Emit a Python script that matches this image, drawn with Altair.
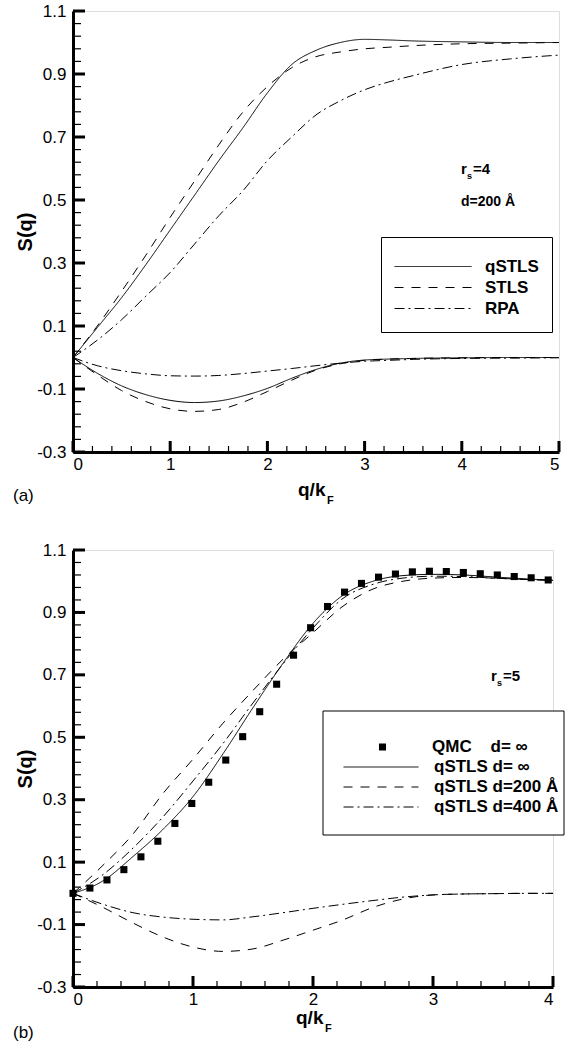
import altair as alt
import pandas as pd

FONT = "Liberation Sans"
NB = "\u00a0"

# ---------------- Panel (a): r_s = 4, d = 200 Å ----------------
q_a = [0, 0.25, 0.5, 0.75, 1.0, 1.25, 1.5, 1.75, 2.0, 2.25, 2.5, 2.75, 3.0, 3.25, 3.5, 4.0, 4.5, 5.0]
qstls_up_a = [0, 0.095, 0.19, 0.295, 0.405, 0.515, 0.625, 0.73, 0.84, 0.93, 0.975, 1.0, 1.01, 1.008, 1.005, 1.002, 1.0, 1.0]
stls_up_a = [0, 0.10, 0.21, 0.325, 0.445, 0.56, 0.675, 0.78, 0.86, 0.92, 0.955, 0.97, 0.98, 0.985, 0.99, 0.996, 0.998, 1.0]
rpa_up_a = [0, 0.055, 0.12, 0.195, 0.27, 0.36, 0.45, 0.53, 0.625, 0.70, 0.77, 0.815, 0.85, 0.875, 0.895, 0.93, 0.948, 0.96]
qstls_lo_a = [0, -0.05, -0.09, -0.118, -0.136, -0.143, -0.138, -0.122, -0.098, -0.066, -0.038, -0.018, -0.008, -0.005, -0.003, -0.001, 0, 0]
stls_lo_a = [0, -0.055, -0.105, -0.14, -0.163, -0.171, -0.165, -0.142, -0.108, -0.072, -0.04, -0.02, -0.009, -0.005, -0.003, -0.001, 0, 0]
rpa_lo_a = [0, -0.026, -0.042, -0.052, -0.058, -0.059, -0.057, -0.051, -0.043, -0.035, -0.026, -0.018, -0.012, -0.009, -0.006, -0.003, -0.002, -0.001]
series_a = ["qSTLS", "STLS", "RPA"]

# ---------------- Panel (b): r_s = 5 ----------------
q_b = [0, 0.25, 0.5, 0.75, 1.0, 1.25, 1.5, 1.75, 2.0, 2.25, 2.5, 2.75, 3.0, 3.25, 3.5, 3.75, 4.0]
qstls_inf_b = [0, 0.04, 0.118, 0.205, 0.31, 0.447, 0.595, 0.737, 0.865, 0.955, 1.0, 1.018, 1.022, 1.02, 1.014, 1.008, 1.003]
d200_up_b = [0, 0.09, 0.19, 0.32, 0.43, 0.545, 0.65, 0.75, 0.835, 0.92, 0.975, 1.0, 1.01, 1.012, 1.01, 1.006, 1.003]
d400_up_b = [0, 0.06, 0.145, 0.245, 0.36, 0.48, 0.61, 0.735, 0.85, 0.945, 0.99, 1.01, 1.016, 1.015, 1.01, 1.006, 1.003]
d200_lo_b = [0, -0.045, -0.095, -0.14, -0.172, -0.186, -0.178, -0.15, -0.118, -0.085, -0.045, -0.018, -0.005, -0.002, -0.001, 0, 0]
d400_lo_b = [0, -0.035, -0.062, -0.076, -0.083, -0.085, -0.075, -0.062, -0.048, -0.035, -0.023, -0.012, -0.005, -0.002, -0.001, 0, 0]
qmc_q = [0, 0.141, 0.283, 0.424, 0.566, 0.707, 0.849, 0.990, 1.131, 1.273, 1.414, 1.556, 1.697, 1.838,
         1.980, 2.121, 2.263, 2.404, 2.546, 2.687, 2.828, 2.970, 3.111, 3.253, 3.394, 3.536, 3.677, 3.818, 3.960]
qmc_s = [0.0, 0.017, 0.043, 0.076, 0.117, 0.167, 0.224, 0.288, 0.356, 0.427, 0.502, 0.582, 0.67, 0.763,
         0.851, 0.919, 0.965, 0.993, 1.013, 1.023, 1.03, 1.032, 1.031, 1.028, 1.024, 1.02, 1.015, 1.011, 1.004]
qmc_name = ["QMC" + NB * 4 + "d=" + NB + "\u221e"]
series_b = ["qSTLS" + NB + "d=" + NB + "\u221e",
            "qSTLS" + NB + "d=200" + NB + "\u00c5", "qSTLS" + NB + "d=400" + NB + "\u00c5"]

# ---------------- Axis ticks / labels ----------------
y_major = [-0.3, -0.1, 0.1, 0.3, 0.5, 0.7, 0.9, 1.1]
y_minor = [-0.26, -0.22, -0.18, -0.14, -0.06, -0.02, 0.02, 0.06, 0.14, 0.18, 0.22, 0.26,
           0.34, 0.38, 0.42, 0.46, 0.54, 0.58, 0.62, 0.66, 0.74, 0.78, 0.82, 0.86,
           0.94, 0.98, 1.02, 1.06]
x_major_a = [0, 1, 2, 3, 4, 5]
x_minor_a = [0.2, 0.4, 0.6, 0.8, 1.2, 1.4, 1.6, 1.8, 2.2, 2.4, 2.6, 2.8, 3.2, 3.4, 3.6, 3.8, 4.2, 4.4, 4.6, 4.8]
x_major_b = [0, 1, 2, 3, 4]
x_minor_b = [0.2, 0.4, 0.6, 0.8, 1.2, 1.4, 1.6, 1.8, 2.2, 2.4, 2.6, 2.8, 3.2, 3.4, 3.6, 3.8]

DASHES = {"solid": [1, 0], "dash": [9, 8], "dashdot": [10, 4, 2, 4]}

WA, HA = 486, 441
WB, HB = 480, 437

AXIS_Y = alt.Axis(values=y_major, labelExpr="replace(format(datum.value, '.1f'), '\u2212', '-')",
                  domainWidth=3, domainColor="black", ticks=False, grid=False,
                  labelFont=FONT, labelFontSize=17, labelColor="black", labelPadding=7,
                  title="S(q)", titleFont=FONT, titleFontSize=20, titleFontWeight="bold",
                  titleColor="black", titlePadding=1)


def axis_x(vals):
    return alt.Axis(values=vals, format="d", domainWidth=3, domainColor="black", ticks=False,
                    grid=False, labelFont=FONT, labelFontSize=17, labelColor="black",
                    labelPadding=4, title=None)


def tick_layers(xscale, yscale, xaxis, xmaj, xmin, H):
    layers = []
    layers.append(alt.Chart(pd.DataFrame({"S": y_major})).mark_rule(color="black", strokeWidth=3).encode(
        y=alt.Y("S:Q", scale=yscale, axis=AXIS_Y), x=alt.value(0), x2=alt.value(12)))
    layers.append(alt.Chart(pd.DataFrame({"S": y_minor})).mark_rule(color="black", strokeWidth=1.2).encode(
        y=alt.Y("S:Q", scale=yscale, axis=AXIS_Y), x=alt.value(0), x2=alt.value(8)))
    layers.append(alt.Chart(pd.DataFrame({"q": xmaj})).mark_rule(color="black", strokeWidth=3).encode(
        x=alt.X("q:Q", scale=xscale, axis=xaxis), y=alt.value(H), y2=alt.value(H - 11)))
    layers.append(alt.Chart(pd.DataFrame({"q": xmin})).mark_rule(color="black", strokeWidth=1.2).encode(
        x=alt.X("q:Q", scale=xscale, axis=xaxis), y=alt.value(H), y2=alt.value(H - 6)))
    return layers


def text_layer(t, x, y, size, bold=True, align="left"):
    return alt.Chart(pd.DataFrame({"t": [t]})).mark_text(
        font=FONT, fontSize=size, fontWeight="bold" if bold else "normal", color="black",
        align=align, baseline="alphabetic").encode(text="t:N", x=alt.value(x), y=alt.value(y))


LEG_COMMON = dict(orient="none", title=None, labelFont=FONT, labelFontSize=17,
                  labelFontWeight="bold", labelColor="black", rowPadding=0)

# ---- panel (a)
rows = []
curves_a = [("qSTLS", "up", qstls_up_a), ("STLS", "up", stls_up_a), ("RPA", "up", rpa_up_a),
            ("qSTLS", "lo", qstls_lo_a), ("STLS", "lo", stls_lo_a), ("RPA", "lo", rpa_lo_a)]
for name, br, vals in curves_a:
    for q, s in zip(q_a, vals):
        rows.append({"q": q, "S": s, "series": name, "branch": name + br})
df_a = pd.DataFrame(rows)

xs_a = alt.Scale(domain=[0, 5], nice=False, zero=False)
ys = alt.Scale(domain=[-0.3, 1.1], nice=False, zero=False)
xax_a = axis_x(x_major_a)

legend_a = alt.Legend(orient="none", legendX=308, legendY=226, title=NB, titleFontSize=6,
                      titlePadding=0, strokeColor="black",
                      fillColor="white", padding=13, symbolType="stroke", symbolSize=5929,
                      symbolStrokeWidth=1, symbolStrokeColor="black", labelFont=FONT,
                      labelFontSize=17, labelFontWeight="bold", labelColor="black",
                      labelOffset=13, clipHeight=21, rowPadding=0)

lines_a = alt.Chart(df_a).mark_line(color="black", strokeWidth=1, interpolate="monotone").encode(
    x=alt.X("q:Q", scale=xs_a, axis=xax_a),
    y=alt.Y("S:Q", scale=ys, axis=AXIS_Y),
    strokeDash=alt.StrokeDash("series:N", scale=alt.Scale(domain=series_a,
                              range=[DASHES["solid"], DASHES["dash"], DASHES["dashdot"]]),
                              legend=legend_a),
    detail="branch:N",
)

panel_a = alt.layer(
    lines_a,
    *tick_layers(xs_a, ys, xax_a, x_major_a, x_minor_a, HA),
    text_layer("r", 388, 163, 15),
    text_layer("s", 394, 168, 9),
    text_layer("=4", 400, 163, 15),
    text_layer("d=200 \u00c5", 388, 195, 14),
    text_layer("q/k", 225, 485, 19),
    text_layer("F", 254, 493, 11),
    text_layer("(a)", -60, 490, 17, bold=False),
).properties(width=WA, height=HA)

# ---- panel (b)
rows = []
curves_b = [(series_b[0], "up", qstls_inf_b), (series_b[1], "up", d200_up_b), (series_b[2], "up", d400_up_b),
            (series_b[1], "lo", d200_lo_b), (series_b[2], "lo", d400_lo_b)]
for name, br, vals in curves_b:
    for q, s in zip(q_b, vals):
        rows.append({"q": q, "S": s, "series": name, "branch": name + br})
df_b = pd.DataFrame(rows)
df_qmc = pd.DataFrame({"q": qmc_q, "S": qmc_s, "src": qmc_name * len(qmc_q)})

xs_b = alt.Scale(domain=[0, 4], nice=False, zero=False)
xax_b = axis_x(x_major_b)

# legend frame (decoration, pixel space of the panel)
frame_b = alt.Chart(pd.DataFrame({"k": [0]})).mark_rect(
    fill="white", stroke="black", strokeWidth=1).encode(
    x=alt.value(250), x2=alt.value(491), y=alt.value(161), y2=alt.value(285))

legend_lines_b = alt.Legend(legendX=270, legendY=207, padding=0, symbolType="stroke",
                            symbolSize=5625, symbolStrokeWidth=1, symbolStrokeColor="black",
                            labelOffset=15, clipHeight=20, **LEG_COMMON)
legend_qmc_b = alt.Legend(legendX=301, legendY=187, padding=0, symbolType="square",
                          symbolSize=50, symbolFillColor="black", symbolStrokeColor="black",
                          symbolStrokeWidth=0, labelOffset=41, clipHeight=20, **LEG_COMMON)

lines_b = alt.Chart(df_b).mark_line(color="black", strokeWidth=1, interpolate="monotone").encode(
    x=alt.X("q:Q", scale=xs_b, axis=xax_b),
    y=alt.Y("S:Q", scale=ys, axis=AXIS_Y),
    strokeDash=alt.StrokeDash("series:N", scale=alt.Scale(domain=series_b,
                              range=[DASHES["solid"], DASHES["dash"], DASHES["dashdot"]]),
                              legend=legend_lines_b),
    detail="branch:N",
)

points_b = alt.Chart(df_qmc).mark_point(filled=True, color="black", opacity=1, size=50).encode(
    x=alt.X("q:Q", scale=xs_b, axis=xax_b),
    y=alt.Y("S:Q", scale=ys, axis=AXIS_Y),
    shape=alt.Shape("src:N", scale=alt.Scale(domain=qmc_name, range=["square"]), legend=legend_qmc_b),
)

panel_b = alt.layer(
    frame_b,
    lines_b,
    points_b,
    *tick_layers(xs_b, ys, xax_b, x_major_b, x_minor_b, HB),
    text_layer("r", 418, 131, 15),
    text_layer("s", 424, 136, 9),
    text_layer("=5", 430, 131, 15),
    text_layer("q/k", 223, 474, 19),
    text_layer("F", 252, 482, 11),
    text_layer("(b)", -60, 488, 17, bold=False),
).properties(width=WB, height=HB)

chart = alt.vconcat(panel_a, panel_b, spacing=98, bounds="flush").resolve_scale(
    x="independent", y="independent", strokeDash="independent", shape="independent"
).resolve_legend(strokeDash="independent", shape="independent").properties(
    padding={"left": 12, "top": 1, "right": 2, "bottom": 5}
).configure_view(stroke=None).configure(background="white")

chart.save("out.html", embed_options={"renderer": "svg", "actions": False})
